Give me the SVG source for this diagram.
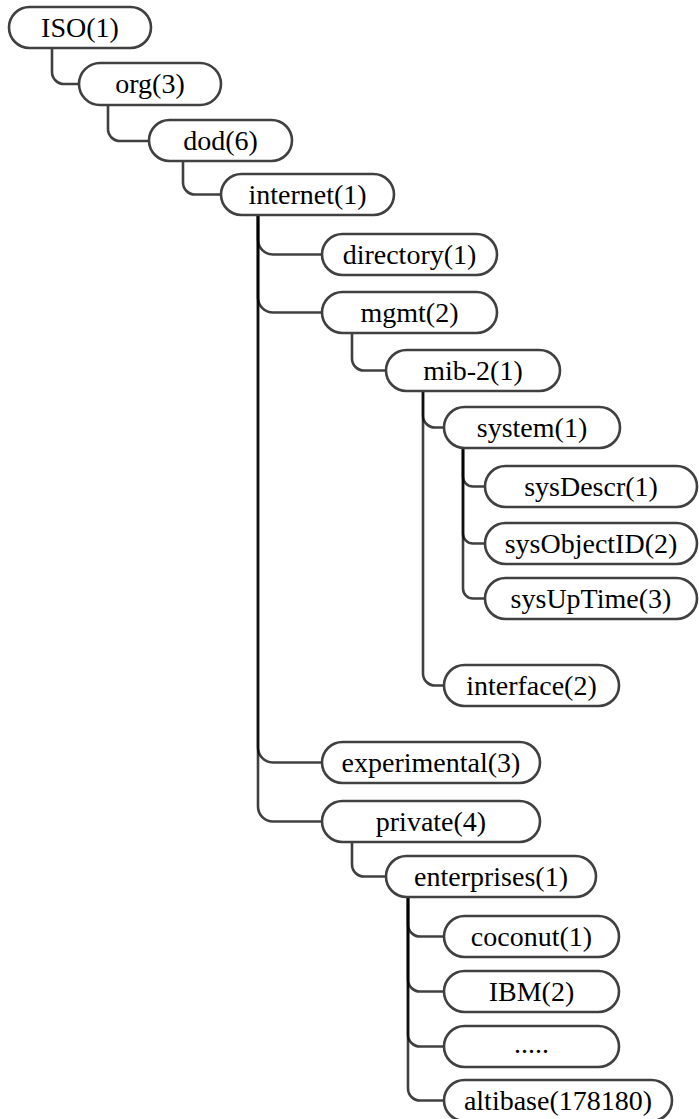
<svg xmlns="http://www.w3.org/2000/svg" width="699" height="1119" viewBox="0 0 699 1119">
  <style>
    .node rect { fill: #ffffff; stroke: #404040; stroke-width: 2.6; }
    .node text { font-family: "Liberation Serif", "DejaVu Serif", serif; font-size: 28px; fill: #000000; text-anchor: middle; }
    #connectors path { fill: none; stroke: #000000; stroke-opacity: 0.75; stroke-width: 2.6; }
  </style>
  <rect width="699" height="1119" fill="#ffffff"/>

  <!-- tree branches: down the parent trunk, round the corner, into the child -->
  <g id="connectors">
    <path d="M52,48 V72 A12,12 0 0 0 64,84 H79"/>
    <path d="M108,105 V129 A12,12 0 0 0 120,141 H149"/>
    <path d="M183,161 V182.5 A12,12 0 0 0 195,194.5 H221"/>
    <path d="M258,215 V239.5 A15,15 0 0 0 273,254.5 H322"/>
    <path d="M258,215 V297.5 A15,15 0 0 0 273,312.5 H322"/>
    <path d="M258,215 V747.5 A15,15 0 0 0 273,762.5 H322"/>
    <path d="M258,215 V806.5 A15,15 0 0 0 273,821.5 H322"/>
    <path d="M352,333 V358.5 A12,12 0 0 0 364,370.5 H386"/>
    <path d="M423,391 V415.5 A12,12 0 0 0 435,427.5 H444"/>
    <path d="M423,391 V673.5 A12,12 0 0 0 435,685.5 H444"/>
    <path d="M463,448 V476.5 A10,10 0 0 0 473,486.5 H485"/>
    <path d="M463,448 V533.5 A10,10 0 0 0 473,543.5 H485"/>
    <path d="M463,448 V588.5 A10,10 0 0 0 473,598.5 H485"/>
    <path d="M352,842 V864.5 A12,12 0 0 0 364,876.5 H386"/>
    <path d="M408,897 V924.5 A12,12 0 0 0 420,936.5 H444"/>
    <path d="M408,897 V979.5 A12,12 0 0 0 420,991.5 H444"/>
    <path d="M408,897 V1034.5 A12,12 0 0 0 420,1046.5 H444"/>
    <path d="M408,897 V1088.5 A12,12 0 0 0 420,1100.5 H444"/>
  </g>

  <g id="iso" class="node"><rect x="9" y="7" width="142" height="41" rx="20.5"/><text x="80" y="36.5">ISO(1)</text></g>
  <g id="org" class="node"><rect x="79" y="63" width="142" height="42" rx="21"/><text x="150" y="93">org(3)</text></g>
  <g id="dod" class="node"><rect x="149" y="120" width="143" height="41" rx="20.5"/><text x="220.5" y="149.5">dod(6)</text></g>
  <g id="internet" class="node"><rect x="221" y="174" width="173" height="41" rx="20.5"/><text x="307.5" y="203.5">internet(1)</text></g>
  <g id="directory" class="node"><rect x="322" y="234" width="175" height="41" rx="20.5"/><text x="409.5" y="263.5">directory(1)</text></g>
  <g id="mgmt" class="node"><rect x="322" y="292" width="175" height="41" rx="20.5"/><text x="409.5" y="321.5">mgmt(2)</text></g>
  <g id="mib-2" class="node"><rect x="386" y="350" width="174" height="41" rx="20.5"/><text x="473" y="379.5">mib-2(1)</text></g>
  <g id="system" class="node"><rect x="444" y="407" width="176" height="41" rx="20.5"/><text x="532" y="436.5">system(1)</text></g>
  <g id="sysDescr" class="node"><rect x="485" y="466" width="212" height="41" rx="20.5"/><text x="591" y="495.5">sysDescr(1)</text></g>
  <g id="sysObjectID" class="node"><rect x="485" y="523" width="212" height="41" rx="20.5"/><text x="591" y="552.5">sysObjectID(2)</text></g>
  <g id="sysUpTime" class="node"><rect x="485" y="578" width="212" height="41" rx="20.5"/><text x="591" y="607.5">sysUpTime(3)</text></g>
  <g id="interface" class="node"><rect x="444" y="665" width="175" height="41" rx="20.5"/><text x="531.5" y="694.5">interface(2)</text></g>
  <g id="experimental" class="node"><rect x="322" y="742" width="218" height="41" rx="20.5"/><text x="431" y="771.5">experimental(3)</text></g>
  <g id="private" class="node"><rect x="322" y="801" width="218" height="41" rx="20.5"/><text x="431" y="830.5">private(4)</text></g>
  <g id="enterprises" class="node"><rect x="386" y="856" width="210" height="41" rx="20.5"/><text x="491" y="885.5">enterprises(1)</text></g>
  <g id="coconut" class="node"><rect x="444" y="916" width="175" height="41" rx="20.5"/><text x="531.5" y="945.5">coconut(1)</text></g>
  <g id="ibm" class="node"><rect x="444" y="971" width="175" height="41" rx="20.5"/><text x="531.5" y="1000.5">IBM(2)</text></g>
  <g id="more" class="node"><rect x="444" y="1026" width="175" height="41" rx="20.5"/><text x="531.5" y="1053">.....</text></g>
  <g id="altibase" class="node"><rect x="444" y="1080" width="228" height="41" rx="20.5"/><text x="558" y="1109.5">altibase(178180)</text></g>
</svg>
